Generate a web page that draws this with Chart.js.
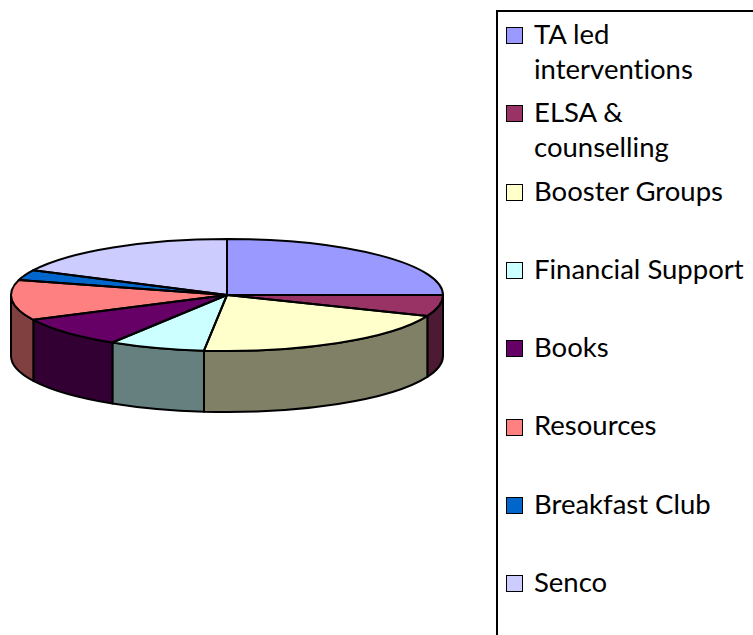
<!DOCTYPE html>
<html>
<head>
<meta charset="utf-8">
<script src="https://cdn.jsdelivr.net/npm/chart.js@4.4.1/dist/chart.umd.min.js"></script>
<style>
  html, body { margin: 0; padding: 0; background: #fff; }
  body { width: 753px; height: 635px; position: relative; overflow: hidden; }
  #pie-wrap { position: absolute; left: 0; top: 0; width: 454px; height: 590px; }
  #legend-box { position: absolute; left: 496px; top: 10px; width: 320px; height: 700px; border: 2px solid #000; box-sizing: border-box; }
  .swatch { position: absolute; width: 17px; height: 17px; box-sizing: border-box; border: 1.5px solid #000; }
  .lbl { position: absolute; left: 534px; font-family: Lato, "Noto Sans", sans-serif; font-size: 27.5px; line-height: 35px; white-space: pre-line; color: #000; font-variant-ligatures: none; }
</style>
</head>
<body>
<div id="pie-wrap"><canvas id="pie"></canvas></div>
<div id="legend-box"></div>
<div id="legend"></div>
<script>
// categories and shares
const labels = ['TA led\ninterventions', 'ELSA &\ncounselling', 'Booster Groups', 'Financial Support', 'Books', 'Resources', 'Breakfast Club', 'Senco'];
const values = [25.0, 6.1, 20.6, 7.2, 8.8, 11.6, 3.0, 17.7];
const topColors = ['#9999FF', '#993366', '#FFFFCC', '#CCFFFF', '#660066', '#FF8080', '#0066CC', '#CCCCFF'];
const sideColors = ['#4D4D80', '#4D1A33', '#808066', '#668080', '#330033', '#804040', '#003366', '#666680'];

const tilt = 56 / 216;   // flattening of the top face
const depth = 61;        // wall height in px

// fake 3D: squash the top face, draw the front walls underneath
const pie3d = {
    id: 'pie3d',
    beforeDatasetsDraw(chart) {
        const arcs = chart.getDatasetMeta(0).data;
        if (!arcs.length) return;
        const { x, y, outerRadius } = arcs[0];
        const rx = outerRadius, ry = outerRadius * tilt;
        const ctx = chart.ctx;
        ctx.save();
        ctx.lineWidth = 2;
        ctx.strokeStyle = '#000';
        ctx.lineJoin = 'round';
        arcs.forEach((arc, i) => {
            const a = Math.max(arc.startAngle, 0);
            const b = Math.min(arc.endAngle, Math.PI);
            if (a >= b) return;
            ctx.beginPath();
            ctx.ellipse(x, y, rx, ry, 0, a, b);
            ctx.lineTo(x + rx * Math.cos(b), y + ry * Math.sin(b) + depth);
            ctx.ellipse(x, y + depth, rx, ry, 0, b, a, true);
            ctx.closePath();
            ctx.fillStyle = sideColors[i];
            ctx.fill();
            ctx.stroke();
        });
        ctx.restore();

        ctx.save();
        ctx.translate(x, y);
        ctx.scale(1, tilt);
        ctx.translate(-x, -y);
    },
    afterDatasetsDraw(chart) {
        const ctx = chart.ctx;
        ctx.restore();
        const arcs = chart.getDatasetMeta(0).data;
        if (!arcs.length) return;
        const { x, y, outerRadius } = arcs[0];
        const rx = outerRadius, ry = outerRadius * tilt;
        ctx.save();
        ctx.lineWidth = 2;
        ctx.strokeStyle = '#000';
        ctx.lineJoin = 'round';
        arcs.forEach(arc => {
            ctx.beginPath();
            ctx.moveTo(x, y);
            ctx.lineTo(x + rx * Math.cos(arc.startAngle), y + ry * Math.sin(arc.startAngle));
            ctx.ellipse(x, y, rx, ry, 0, arc.startAngle, arc.endAngle);
            ctx.closePath();
            ctx.stroke();
        });
        ctx.restore();
    }
};

new Chart(document.getElementById('pie'), {
    type: 'pie',
    data: {
        labels: labels,
        datasets: [{
            data: values,
            backgroundColor: topColors,
            borderWidth: 0,
            radius: 216,
        }]
    },
    options: {
        responsive: true, maintainAspectRatio: false,
        animation: false,
        events: [],
        layout: { padding: 0 },
        plugins: { legend: { display: false }, tooltip: { enabled: false } }
    },
    plugins: [pie3d]
});

// legend, Excel style boxed list
const legend = document.getElementById('legend');
labels.forEach((lab, i) => {
    const baseline = 44 + 78.3 * i;
    const sw = document.createElement('div');
    sw.className = 'swatch';
    sw.style.left = '506px';
    sw.style.top = (baseline - 17) + 'px';
    sw.style.background = topColors[i];
    legend.appendChild(sw);
    const t = document.createElement('div');
    t.className = 'lbl';
    t.style.top = (baseline - 28.1) + 'px';
    t.textContent = lab;
    legend.appendChild(t);
});
</script>
</body>
</html>
